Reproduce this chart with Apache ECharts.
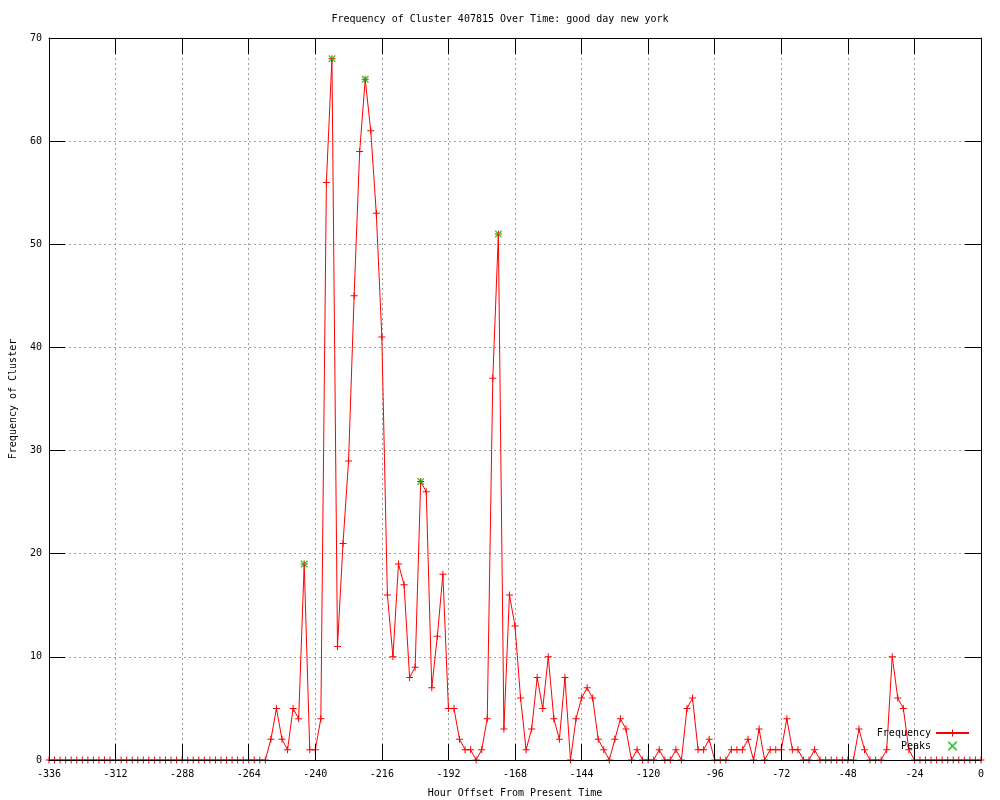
<!DOCTYPE html>
<html><head><meta charset="utf-8">
<script src="https://cdn.jsdelivr.net/npm/echarts@6/dist/echarts.min.js"></script>
<style>html,body{margin:0;padding:0;background:#fff}#c{width:1000px;height:800px}</style>
</head><body><div id="c"></div>
<script>
const TITLE = 'Frequency of Cluster 407815 Over Time: good day new york';
const X_NAME = 'Hour Offset From Present Time';
const Y_NAME = 'Frequency of Cluster';
const SERIES_NAMES = ['Frequency', 'Peaks'];
// hourly offsets: one sample every 2 hours from -336 to 0
const HOUR_START = -336;
const HOUR_STEP = 2;
const FREQ = [
  0,0,0,0,0,0,0,0,0,0,          // -336..-318
  0,0,0,0,0,0,0,0,0,0,          // -316..-298
  0,0,0,0,0,0,0,0,0,0,          // -296..-278
  0,0,0,0,0,0,0,0,0,0,          // -276..-258
  2,5,2,1,5,4,19,1,1,4,         // -256..-238
  56,68,11,21,29,45,59,66,61,53,// -236..-218
  41,16,10,19,17,8,9,27,26,7,   // -216..-198
  12,18,5,5,2,1,1,0,1,4,        // -196..-178
  37,51,3,16,13,6,1,3,8,5,      // -176..-158
  10,4,2,8,0,4,6,7,6,2,         // -156..-138
  1,0,2,4,3,0,1,0,0,0,          // -136..-118
  1,0,0,1,0,5,6,1,1,2,          // -116..-98
  0,0,0,1,1,1,2,0,3,0,          // -96..-78
  1,1,1,4,1,1,0,0,1,0,          // -76..-58
  0,0,0,0,0,0,3,1,0,0,          // -56..-38
  0,1,10,6,5,1,0,0,0,0,         // -36..-18
  0,0,0,0,0,0,0,0,0             // -16..0
];
const PEAK_HOURS = [-244, -234, -222, -202, -174];
const PEAK_VALUES = [19, 68, 66, 27, 51];
const X_MIN = -336, X_MAX = 0, X_INTERVAL = 24;
const Y_MIN = 0, Y_MAX = 70, Y_INTERVAL = 10;

const FONT = 'DejaVu Sans Mono';
const PLUS = 'path://M0,3H7V4H0Z M3,0H4V7H3Z';
const CROSS = 'path://M0,0L1,0L7,6L7,7L6,7L0,1Z M6,0L7,0L7,1L1,7L0,7L0,6Z';

const lineData = FREQ.map((v, i) => [HOUR_START + i * HOUR_STEP, v]);
const peakData = PEAK_HOURS.map((h, i) => [h, PEAK_VALUES[i]]);

const txt = {fontFamily: FONT, fontSize: 10, color: '#000'};
function frameAxis(pos, min, max, interval) {
  return {
    type: 'value', position: pos, min: min, max: max, interval: interval, z: 5,
    axisLine: {show: true, onZero: false, lineStyle: {color: '#000', width: 1}},
    axisTick: {show: true, inside: true, length: 16, lineStyle: {color: '#000', width: 1}},
    axisLabel: {show: false}, splitLine: {show: false}
  };
}
const chart = echarts.init(document.getElementById('c'));
chart.setOption({
  animation: false,
  backgroundColor: '#fff',
  title: {text: TITLE, left: 'center', top: 14, padding: 0,
    textStyle: {fontFamily: FONT, fontSize: 10, fontWeight: 'normal', color: '#000'}},
  grid: {left: 49, right: 19, top: 38, bottom: 40, containLabel: false, outerBoundsMode: 'none'},
  legend: {
    data: [{name: SERIES_NAMES[0]}, {name: SERIES_NAMES[1], icon: CROSS}],
    orient: 'vertical', align: 'right', right: 30, top: 727, padding: 0,
    itemWidth: 33, itemHeight: 9, itemGap: 1, selectedMode: false, symbolKeepAspect: true,
    textStyle: Object.assign({lineHeight: 12}, txt)
  },
  xAxis: [
    {type: 'value', position: 'bottom', min: X_MIN, max: X_MAX, interval: X_INTERVAL, z: 0,
     axisLine: {show: false, onZero: false}, axisTick: {show: false},
     axisLabel: Object.assign({margin: 9}, txt),
     splitLine: {show: true, lineStyle: {color: '#a0a0a0', width: 1, type: [2, 3]}},
     name: X_NAME, nameLocation: 'middle', nameGap: 28, nameTextStyle: txt},
    frameAxis('bottom', X_MIN, X_MAX, X_INTERVAL),
    frameAxis('top', X_MIN, X_MAX, X_INTERVAL)
  ],
  yAxis: [
    {type: 'value', position: 'left', min: Y_MIN, max: Y_MAX, interval: Y_INTERVAL, z: 0,
     axisLine: {show: false, onZero: false}, axisTick: {show: false},
     axisLabel: Object.assign({margin: 7}, txt),
     splitLine: {show: true, lineStyle: {color: '#a0a0a0', width: 1, type: [2, 3]}},
     name: Y_NAME, nameLocation: 'middle', nameGap: 31, nameTextStyle: txt},
    frameAxis('left', Y_MIN, Y_MAX, Y_INTERVAL),
    frameAxis('right', Y_MIN, Y_MAX, Y_INTERVAL)
  ],
  series: [
    {type: 'line', name: SERIES_NAMES[0], data: lineData, xAxisIndex: 0, yAxisIndex: 0,
     symbol: PLUS, symbolSize: 7, showAllSymbol: true, z: 2,
     lineStyle: {color: '#ff0000', width: 1}, itemStyle: {color: '#ff0000'},
     emphasis: {disabled: true}},
    {type: 'scatter', name: SERIES_NAMES[1], data: peakData, xAxisIndex: 0, yAxisIndex: 0,
     symbol: CROSS, symbolSize: 7, z: 3, itemStyle: {color: '#00c000'},
     emphasis: {disabled: true}}
  ]
});
</script></body></html>
